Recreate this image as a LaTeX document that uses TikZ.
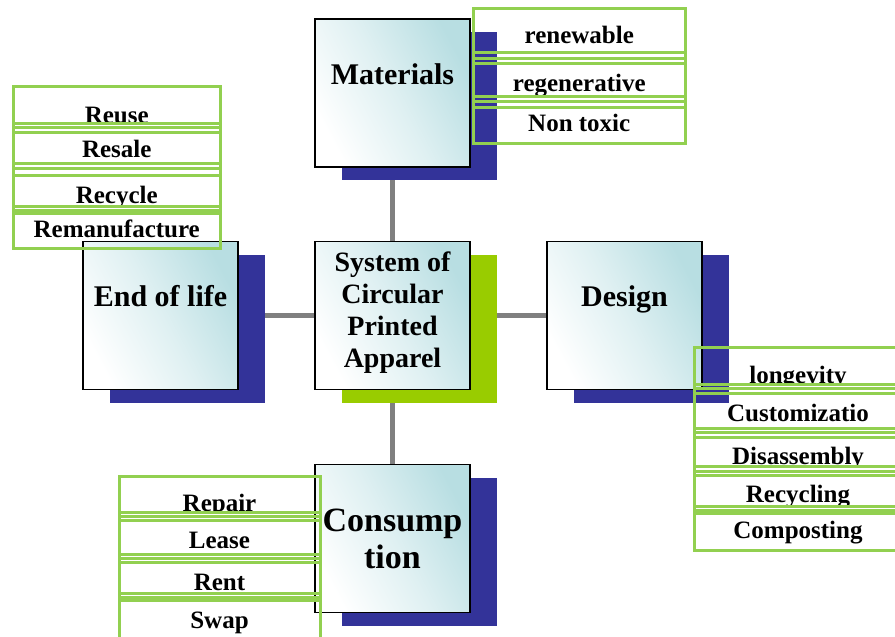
\documentclass[tikz,border=0pt]{standalone}
\usepackage{fontspec}
\setmainfont{Liberation Serif}
\usetikzlibrary{shadows, backgrounds}

\begin{document}
\begin{tikzpicture}[x=1pt, y=-1pt,
    % Estilo de las cajas principales (borde negro y degradado)
    cajaPrincipal/.style={
        draw=black, line width=1.2pt, inner sep=0pt,
        minimum width=155pt, minimum height=148pt, align=center,
        bottom color=white, top color=tealCaja, middle color=tealCaja!45!white, shading angle=-62,
        font=\bfseries\fontsize{30}{32}\selectfont
    },
    % Sombras desplazadas
    sombraAzul/.style={
        drop shadow={shadow xshift=27pt, shadow yshift=-13pt, fill=azulSombra, opacity=1}
    },
    sombraVerde/.style={
        drop shadow={shadow xshift=27pt, shadow yshift=-13pt, fill=verdeSombra, opacity=1}
    },
    % Texto de una sola linea, subido
    textoArriba/.style={text height=22pt, text depth=40pt},
    % Conectores grises
    conector/.style={line width=5pt, grisConector},
    % Marcos verdes de las listas
    marcoLista/.style={draw=verdeLista, line width=3pt},
    itemLista/.style 2 args={
        draw=verdeLista, line width=3pt, inner sep=0pt, outer sep=0pt, anchor=north west,
        path picture={\node[textoItem] at ([yshift=#2pt]path picture bounding box.south) {#1};}
    },
    textoItem/.style={
        anchor=base, inner sep=0pt, draw=none, minimum width=0pt, minimum height=0pt,
        text=black, font=\bfseries\fontsize{25}{28}\selectfont
    }
]
    % --- COLORES ---
    \definecolor{tealCaja}{RGB}{184, 222, 226}
    \definecolor{azulSombra}{RGB}{51, 51, 153}
    \definecolor{verdeSombra}{RGB}{153, 204, 0}
    \definecolor{verdeLista}{RGB}{146, 208, 80}
    \definecolor{grisConector}{RGB}{128, 128, 128}

    \useasboundingbox (0,0) rectangle (895,637);

    % 1. Cajas principales
    \node[cajaPrincipal, sombraAzul, textoArriba] (materiales) at (392.5,93) {Materials};
    \node[cajaPrincipal, sombraVerde, font=\bfseries\fontsize{28}{32}\selectfont] (sistema) at (392.5,315.5)
        {System of\\Circular\\Printed\\Apparel\\[-20pt]};
    \node[cajaPrincipal, sombraAzul, textoArriba] (finVida) at (160.5,315.5) {End of life};
    \node[cajaPrincipal, sombraAzul, textoArriba] (diseno) at (624.5,315.5) {Design};
    \node[cajaPrincipal, sombraAzul, font=\bfseries\fontsize{34}{37}\selectfont] (consumo) at (392.5,538.5)
        {Consump\\tion};

    % 2. Conectores (por debajo de las sombras)
    \begin{scope}[on background layer]
        \fill[white] (0,0) rectangle (895,637);
        \draw[conector] (materiales) -- (sistema);
        \draw[conector] (finVida) -- (sistema);
        \draw[conector] (sistema) -- (diseno);
        \draw[conector] (sistema) -- (consumo);
    \end{scope}

    % 3. Lista de materiales
    \draw[marcoLista] (473.5,8) rectangle (685,143);
    \foreach \y in {58,101} \draw[marcoLista] (473.5,\y) -- (685,\y);
    \node[itemLista={renewable}{9}, minimum width=211.5pt, minimum height=44pt] (renovable) at (473.5,8) {};
    \node[itemLista={regenerative}{5}, minimum width=211.5pt, minimum height=33pt] (regenerativo) at (473.5,63) {};
    \node[itemLista={Non toxic}{12}, minimum width=211.5pt, minimum height=36pt] (noToxico) at (473.5,107) {};

    % 4. Lista de fin de vida
    \draw[marcoLista] (13.5,86) rectangle (220,248);
    \foreach \y in {127,168,210} \draw[marcoLista] (13.5,\y) -- (220,\y);
    \node[itemLista={Reuse}{0}, minimum width=206.5pt, minimum height=37pt] (reuso) at (13.5,86) {};
    \node[itemLista={Resale}{6}, minimum width=206.5pt, minimum height=31pt] (reventa) at (13.5,132) {};
    \node[itemLista={Recycle}{3}, minimum width=206.5pt, minimum height=31pt] (reciclaje) at (13.5,175) {};
    \node[itemLista={Remanufacture}{11}, minimum width=206.5pt, minimum height=35pt] (refabricacion) at (13.5,213) {};

    % 5. Lista de diseno
    \draw[marcoLista] (694,347) rectangle (902,550);
    \foreach \y in {388,432,471,510} \draw[marcoLista] (694,\y) -- (902,\y);
    \node[itemLista={longevity}{1}, minimum width=208pt, minimum height=37pt] (longevidad) at (694,347) {};
    \node[itemLista={Customizatio}{7}, minimum width=208pt, minimum height=35pt] (personalizacion) at (694,393) {};
    \node[itemLista={Disassembly}{2}, minimum width=208pt, minimum height=29pt] (desmontaje) at (694,437) {};
    \node[itemLista={Recycling}{4}, minimum width=208pt, minimum height=31pt] (reciclado) at (694,475) {};
    \node[itemLista={Composting}{12}, minimum width=208pt, minimum height=37pt] (compostaje) at (694,513) {};

    % 6. Lista de consumo
    \draw[marcoLista] (119,476) rectangle (320,645);
    \foreach \y in {516,558,597} \draw[marcoLista] (119,\y) -- (320,\y);
    \node[itemLista={Repair}{1}, minimum width=201pt, minimum height=36pt] (reparar) at (119,476) {};
    \node[itemLista={Lease}{6}, minimum width=201pt, minimum height=34pt] (arrendar) at (119,520) {};
    \node[itemLista={Rent}{3}, minimum width=201pt, minimum height=31pt] (alquilar) at (119,562) {};
    \node[itemLista={Swap}{17}, minimum width=201pt, minimum height=45pt] (intercambiar) at (119,600) {};

\end{tikzpicture}
\end{document}
